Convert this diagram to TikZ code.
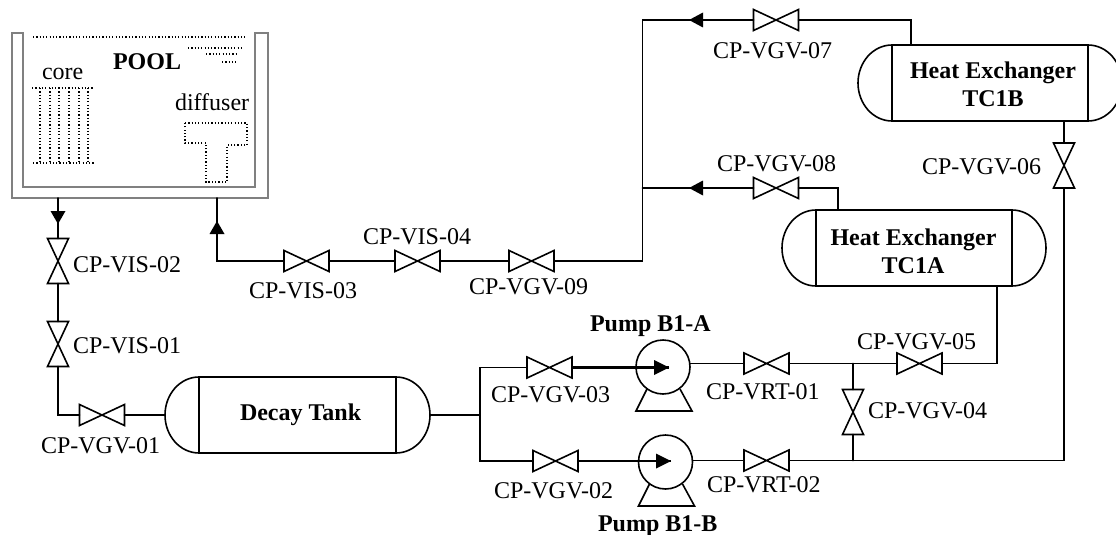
\documentclass[tikz,border=0pt]{standalone}
\usepackage{fontspec}
\setmainfont{Liberation Serif}
\newcommand{\valveH}[3]{\node[valvebox,minimum width=45pt,minimum height=21pt] (#1) at (#2,#3) {};
  \draw[vline] (#1.north west) -- (#1.south east) -- (#1.north east) -- (#1.south west) -- cycle;}
\newcommand{\valveV}[3]{\node[valvebox,minimum width=21pt,minimum height=45pt] (#1) at (#2,#3) {};
  \draw[vline] (#1.north west) -- (#1.south east) -- (#1.south west) -- (#1.north east) -- cycle;}
\newcommand{\tank}[4]{\node[tankbox,minimum width=#4pt] (#1) at (#2,#3) {};
  \draw[vline] (#1.north west) arc[start angle=90,end angle=270,x radius=34pt,y radius=38pt];
  \draw[vline] (#1.north east) arc[start angle=90,end angle=-90,x radius=34pt,y radius=38pt];
  \coordinate (#1L) at ([xshift=-34pt]#1.west);
  \coordinate (#1R) at ([xshift=34pt]#1.east);}
\newcommand{\pump}[3]{\node[pumpbox] (#1) at (#2,#3) {};
  \draw[vline] ([shift={(-16pt,-22pt)}]#1.center) -- ([shift={(-27pt,-44pt)}]#1.center) -- ([shift={(29pt,-44pt)}]#1.center) -- ([shift={(17pt,-22pt)}]#1.center);}
\tikzset{
  x=1pt,y=-1pt,
  pipe/.style={line width=1.6pt,line cap=round},
  vline/.style={line width=1.6pt,line join=miter},
  thickpipe/.style={line width=2.4pt},
  thinthick/.style={line width=1.9pt},
  valvebox/.style={inner sep=0pt,outer sep=0pt,rectangle},
  tankbox/.style={draw,line width=1.6pt,rectangle,inner sep=0pt,outer sep=0pt,minimum height=76pt},
  pumpbox/.style={draw,line width=1.6pt,circle,inner sep=0pt,outer sep=0pt,minimum size=54pt},
  lab/.style={anchor=base west,inner sep=0pt,outer sep=0pt,font=\fontsize{24pt}{26pt}\selectfont},
  bold/.style={anchor=base west,inner sep=0pt,outer sep=0pt,font=\fontsize{24pt}{26pt}\selectfont\bfseries},
  boldc/.style={bold,anchor=base},
  pooltxt/.style={anchor=base west,inner sep=0pt,outer sep=0pt,font=\fontsize{24pt}{26pt}\selectfont},
  dots/.style={line width=1.2pt,dash pattern=on 1.2pt off 2.1pt},
  poolwall/.style={draw=black!50,line width=2.2pt,line join=miter},
}
\begin{document}
\begin{tikzpicture}
\useasboundingbox (0,0) rectangle (1116,535);
\clip (0,0) rectangle (1116,535);
% pool
\draw[poolwall] (12,33) -- (12,198) -- (268,198) -- (268,33) -- (255,33) -- (255,187) -- (23,187) -- (23,33) -- cycle;
\draw[dots] (33,37) -- (245,37);
\draw[dots] (188,48) -- (242,48);
\draw[dots] (206,54) -- (238,54);
\draw[dots] (222,62) -- (237,62);
\draw[dots] (32,88) -- (94,88);
\draw[dots] (33,163) -- (95,163);
\foreach \vx in {40,50,59,69,79,88} {\draw[dots] (\vx,88) -- (\vx,163);}
\draw[dots] (185,123) -- (247,123) -- (247,145) -- (227,145) -- (227,182) -- (206,182) -- (206,143) -- (185,143) -- cycle;
\node[bold] (pooltext) at (113,70) {POOL};
\node[pooltxt] (coretext) at (42,79) {core};
\node[pooltxt] (difftext) at (175,110) {diffuser};
% equipment
\tank{dt}{297.5}{415}{197}
\node[bold] (dttext) at (240,420) {Decay Tank};
\tank{hxb}{990}{83}{196}
\node[boldc] (hxbt1) at (993,78) {Heat Exchanger};
\node[boldc] (hxbt2) at (993,106) {TC1B};
\tank{hxa}{914}{248}{196}
\node[boldc] (hxat1) at (913.5,245) {Heat Exchanger};
\node[boldc] (hxat2) at (913,273) {TC1A};
\pump{pa}{663}{367}
\pump{pb}{665.5}{462}
% valves
\valveV{vis02}{58}{261}
\valveV{vis01}{58}{344}
\valveH{vgv01}{102}{415}
\valveH{vis03}{306.5}{261}
\valveH{vis04}{417.5}{261}
\valveH{vgv09}{531.5}{261}
\valveH{vgv07}{776}{20}
\valveH{vgv08}{776}{188}
\valveV{vgv06}{1064}{165.5}
\valveH{vgv05}{919.5}{363.5}
\valveV{vgv04}{853}{412}
\valveH{vrt01}{766.5}{363.5}
\valveH{vrt02}{766.5}{460.5}
\valveH{vgv03}{549.5}{367.5}
\valveH{vgv02}{555.5}{461}
% free ends and bends
\coordinate (poolout) at (58,198);
\coordinate (poolin) at (217,198);
\coordinate (jct) at (480,415);
\coordinate (risetop) at (642.5,20);
\coordinate (riseb) at (642.5,261);
\coordinate (rise8) at (642.5,188);
\coordinate (hxbtop) at (911,45);
\coordinate (hxatop) at (838,210);
\coordinate (hxabot) at (997,286);
\coordinate (hxbbot) at (1064,121);
\coordinate (j4t) at (853,363.5);
\coordinate (j4b) at (853,460.5);
\coordinate (tipa) at (669,367.5);
\coordinate (tipb) at (671,461);
\coordinate (tipd) at (58,224);
\coordinate (tipr) at (217,221);
\coordinate (tip7) at (689,20);
\coordinate (tip8) at (689,188);
% pipes
\draw[pipe] (poolout) -- (vis02.north);
\draw[pipe] (vis02.south) -- (vis01.north);
\draw[pipe] (vis01.south) |- (vgv01.west);
\draw[pipe] (vgv01.east) -- (dtL);
\draw[pipe] (dtR) -- (jct);
\draw[pipe] (vgv03.west) -| (jct) |- (vgv02.west);
\draw[thickpipe] (vgv03.east) -- (tipa);
\draw[thinthick] (vgv02.east) -- (tipb);
\draw[pipe] (pa.east |- vrt01.west) -- (vrt01.west);
\draw[pipe] (pb.east |- vrt02.west) -- (vrt02.west);
\draw[pipe] (vrt01.east) -- (vgv05.west);
\draw[pipe] (vgv05.east) -| (hxabot);
\draw[pipe] (j4t) -- (vgv04.north);
\draw[pipe] (vgv04.south) -- (j4b);
\draw[pipe] (vrt02.east) -| (vgv06.south);
\draw[pipe] (vgv06.north) -- (hxbbot);
\draw[pipe] (poolin) |- (vis03.west);
\draw[pipe] (vis03.east) -- (vis04.west);
\draw[pipe] (vis04.east) -- (vgv09.west);
\draw[pipe] (vgv09.east) -- (riseb) -- (risetop) -- (vgv07.west);
\draw[pipe] (rise8) -- (vgv08.west);
\draw[pipe] (vgv07.east) -| (hxbtop);
\draw[pipe] (vgv08.east) -| (hxatop);
% arrowheads
\fill (tipd) -- ++(-7.5,-13) -- ++(15,0) -- cycle;
\fill (tipr) -- ++(-7.5,13) -- ++(15,0) -- cycle;
\fill (tip7) -- ++(14,-7.5) -- ++(0,15) -- cycle;
\fill (tip8) -- ++(14,-7.5) -- ++(0,15) -- cycle;
\fill (tipa) -- ++(-15,-7.5) -- ++(0,15) -- cycle;
\fill (tipb) -- ++(-15,-7.5) -- ++(0,15) -- cycle;
% labels
\node[lab] (l1) at (73,272) {CP-VIS-02};
\node[lab] (l2) at (73,353) {CP-VIS-01};
\node[lab] (l3) at (41,453) {CP-VGV-01};
\node[lab] (l4) at (249,298) {CP-VIS-03};
\node[lab] (l5) at (363,244) {CP-VIS-04};
\node[lab] (l6) at (469,294) {CP-VGV-09};
\node[lab] (l7) at (713,59) {CP-VGV-07};
\node[lab] (l8) at (717,171) {CP-VGV-08};
\node[lab] (l9) at (922,174) {CP-VGV-06};
\node[lab] (l10) at (857,349) {CP-VGV-05};
\node[lab] (l11) at (868,418) {CP-VGV-04};
\node[lab] (l12) at (706,399) {CP-VRT-01};
\node[lab] (l13) at (707,492) {CP-VRT-02};
\node[lab] (l14) at (491,402) {CP-VGV-03};
\node[lab] (l15) at (494,498) {CP-VGV-02};
\node[bold] (l16) at (590,331) {Pump B1-A};
\node[bold] (l17) at (598,531) {Pump B1-B};
\end{tikzpicture}
\end{document}
